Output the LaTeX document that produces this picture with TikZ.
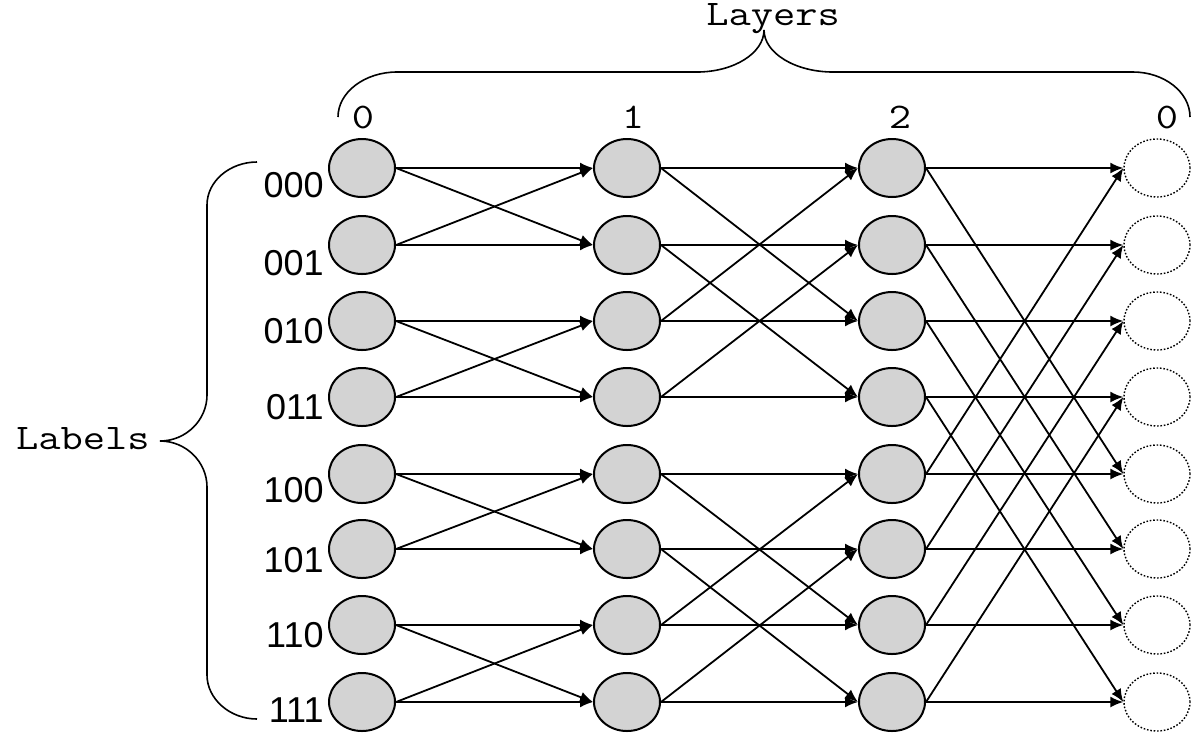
\documentclass[tikz,border=0pt]{standalone}
\usepackage{fontspec}
\setmainfont{Liberation Sans}
\usetikzlibrary{shapes.geometric,arrows.meta}
\definecolor{nodegray}{RGB}{211,211,211}
\newcommand\monotxt[1]{\scalebox{1.2}[1]{#1}}
\begin{document}
\begin{tikzpicture}[x=0.5pt,y=-0.5pt,
  vertex/.style={ellipse,draw,line width=1pt,fill=nodegray,minimum width=33pt,minimum height=29pt,inner sep=0pt},
  outvertex/.style={ellipse,draw,line width=0.7pt,dash pattern=on 0.8pt off 0.9pt,fill=white,minimum width=33pt,minimum height=29pt,inner sep=0pt},
  link/.style={line width=0.9pt,-{Latex[length=6.5pt,width=5.5pt]}},
  rowlabel/.style={anchor=base east,inner sep=0pt,font=\fontsize{18}{18}\selectfont},
  monolabel/.style={inner sep=0pt,font=\ttfamily\fontsize{18}{18}\selectfont},
  bracepath/.style={line width=0.8pt}]
\useasboundingbox (0,0) rectangle (1198,735);
% nodes
\foreach \c/\x in {0/362,1/627,2/892}{
  \foreach \r/\y in {0/168,1/245,2/321,3/397,4/474,5/549,6/625,7/702}{
    \node[vertex] (n\c\r) at (\x,\y) {};
  }
}
\foreach \r/\y in {0/168,1/245,2/321,3/397,4/474,5/549,6/625,7/702}{
  \node[outvertex] (n3\r) at (1157,\y) {};
}
% edges
\foreach \c/\b in {0/1,1/2,2/4}{
  \pgfmathtruncatemacro\d{\c+1}
  \foreach \r in {0,...,7}{
    \pgfmathtruncatemacro\p{ifthenelse(mod(floor(\r/\b),2)==0,\r+\b,\r-\b)}
    \draw[link] (n\c\r.east) -- (n\d\r.west);
    \draw[link] (n\c\r.east) -- (n\d\p.west);
  }
}
% row labels
\foreach \r/\t/\yb in {0/000/197,1/001/275,2/010/343,3/011/419,4/100/502,5/101/572,6/110/647,7/111/722}{
  \node[rowlabel] (lab\r) at (324,\yb) {\t};
}
% layer labels
\node[monolabel,anchor=base] (ly0) at (363,128) {\monotxt{0}};
\node[monolabel,anchor=base] (ly1) at (633,128) {\monotxt{1}};
\node[monolabel,anchor=base] (ly2) at (900,128) {\monotxt{2}};
\node[monolabel,anchor=base] (ly3) at (1167,128) {\monotxt{0}};
\node[monolabel,anchor=base] (layers) at (773,25) {\monotxt{Layers}};
\node[monolabel,anchor=base east] (labels) at (150,449) {\monotxt{Labels}};
% braces
\draw[bracepath] (338,117) .. controls (338,92) and (365,72) .. (397,72) -- (697,72)
  .. controls (734,72) and (764,53) .. (764,30)
  .. controls (764,53) and (795,72) .. (833,72) -- (1133,72)
  .. controls (1164,72) and (1190,92) .. (1190,117);
\draw[bracepath] (257,162) .. controls (230,162) and (207,181) .. (207,205) -- (207,395)
  .. controls (207,420) and (186,441) .. (160,441)
  .. controls (186,441) and (207,462) .. (207,487) -- (207,675)
  .. controls (207,699) and (230,719) .. (257,719);
\end{tikzpicture}
\end{document}
